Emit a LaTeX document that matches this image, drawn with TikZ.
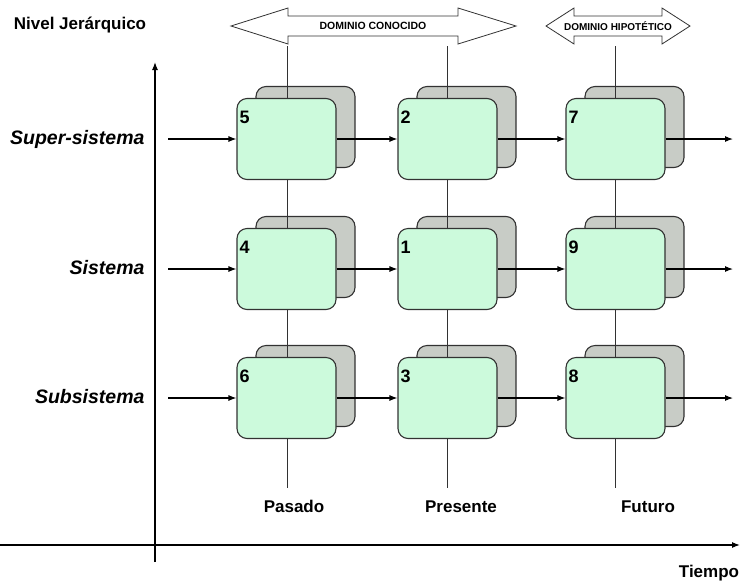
\documentclass[tikz,border=0pt]{standalone}
\usepackage{fontspec}
\setmainfont{Liberation Sans}
\usepackage{xcolor}
\usepackage{tikz}
\usetikzlibrary{arrows.meta}

\definecolor{mint}{RGB}{204,250,220}
\definecolor{stone}{RGB}{200,204,198}
\definecolor{edge}{RGB}{50,50,50}

\tikzset{
  >={Latex[length=8pt,width=6pt]},
  front/.style={draw=edge, line width=1.1pt, fill=mint, rounded corners=10pt,
    minimum width=99pt, minimum height=81pt, inner sep=0pt},
  back/.style={draw=edge, line width=1.1pt, fill=stone, rounded corners=10pt,
    minimum width=99pt, minimum height=81pt, inner sep=0pt},
  num/.style={anchor=north west, inner sep=0pt, xshift=3pt, yshift=-13pt,
    font=\fontsize{18}{20}\selectfont\bfseries},
  lbl/.style={anchor=base, font=\fontsize{17}{20}\selectfont\bfseries},
  lvl/.style={anchor=base east, font=\fontsize{19.5}{22}\selectfont\bfseries\itshape},
  dom/.style={draw=edge, line width=0.8pt, fill=white}
}

\begin{document}
\begin{tikzpicture}[x=1pt,y=-1pt]
  \useasboundingbox (0,0) rectangle (741,582);

  % Axes
  \coordinate (o) at (155,562);
  \coordinate (ytop) at (155,62);
  \coordinate (xl) at (0,545);
  \coordinate (xr) at (740,545);
  \draw[->, line width=1.2pt] (o) -- (ytop);
  \draw[->, line width=1.2pt] (xl) -- (xr);
  \node[lbl] (nivel) at (80,29) {Nivel Jerárquico};
  \node[lbl] (tiempo) at (709,577) {Tiempo};

  % Domains
  \draw[dom] (231,26) -- (288,8) -- (288,16) -- (458,16) -- (458,8) -- (516,26)
    -- (458,44) -- (458,36) -- (288,36) -- (288,44) -- cycle;
  \node[font=\fontsize{10.5}{12}\selectfont\bfseries] (conocido) at (373,26) {DOMINIO CONOCIDO};
  \draw[dom] (546,26) -- (574,8) -- (574,16) -- (662,16) -- (662,8) -- (690,26)
    -- (662,44) -- (662,36) -- (574,36) -- (574,44) -- cycle;
  \node[font=\fontsize{10}{12}\selectfont\bfseries] (hipotetico) at (618,26) {DOMINIO HIPOTÉTICO};

  % Back boxes
  \node[back] (s5) at (305.5,127) {};
  \node[back] (s2) at (466.5,127) {};
  \node[back] (s7) at (634.5,127) {};
  \node[back] (s4) at (305.5,257) {};
  \node[back] (s1) at (466.5,257) {};
  \node[back] (s9) at (634.5,257) {};
  \node[back] (s6) at (305.5,386) {};
  \node[back] (s3) at (466.5,386) {};
  \node[back] (s8) at (634.5,386) {};

  % Time lines
  \coordinate (p1) at (287,46);
  \coordinate (q1) at (287,488);
  \coordinate (p2) at (447.5,46);
  \coordinate (q2) at (447.5,488);
  \coordinate (p3) at (615.5,46);
  \coordinate (q3) at (615.5,488);
  \draw[edge, line width=0.7pt] (p1) -- (q1);
  \draw[edge, line width=0.7pt] (p2) -- (q2);
  \draw[edge, line width=0.7pt] (p3) -- (q3);
  \node[lbl] (pasado) at (294,512) {Pasado};
  \node[lbl] (presente) at (461,512) {Presente};
  \node[lbl] (futuro) at (648,512) {Futuro};

  % Front boxes
  \node[front, label={[num]north west:5}] (b5) at (286.5,139) {};
  \node[front, label={[num]north west:2}] (b2) at (447.5,139) {};
  \node[front, label={[num]north west:7}] (b7) at (615.5,139) {};
  \node[front, label={[num]north west:4}] (b4) at (286.5,269) {};
  \node[front, label={[num]north west:1}] (b1) at (447.5,269) {};
  \node[front, label={[num]north west:9}] (b9) at (615.5,269) {};
  \node[front, label={[num]north west:6}] (b6) at (286.5,398) {};
  \node[front, label={[num]north west:3}] (b3) at (447.5,398) {};
  \node[front, label={[num]north west:8}] (b8) at (615.5,398) {};

  % Levels
  \node[lvl] (super) at (148,144) {Super-sistema};
  \node[lvl] (sistema) at (148,274) {Sistema};
  \node[lvl] (sub) at (148,403) {Subsistema};

  % Flows
  \coordinate (in1) at (168,139);
  \coordinate (in2) at (168,269);
  \coordinate (in3) at (168,398);
  \coordinate (out1) at (733,139);
  \coordinate (out2) at (733,269);
  \coordinate (out3) at (733,398);
  \draw[->, line width=1.1pt] (in1) -- (b5);
  \draw[->, line width=1.1pt] (b5) -- (b2);
  \draw[->, line width=1.1pt] (b2) -- (b7);
  \draw[->, line width=1.1pt] (b7) -- (out1);
  \draw[->, line width=1.1pt] (in2) -- (b4);
  \draw[->, line width=1.1pt] (b4) -- (b1);
  \draw[->, line width=1.1pt] (b1) -- (b9);
  \draw[->, line width=1.1pt] (b9) -- (out2);
  \draw[->, line width=1.1pt] (in3) -- (b6);
  \draw[->, line width=1.1pt] (b6) -- (b3);
  \draw[->, line width=1.1pt] (b3) -- (b8);
  \draw[->, line width=1.1pt] (b8) -- (out3);
\end{tikzpicture}
\end{document}
